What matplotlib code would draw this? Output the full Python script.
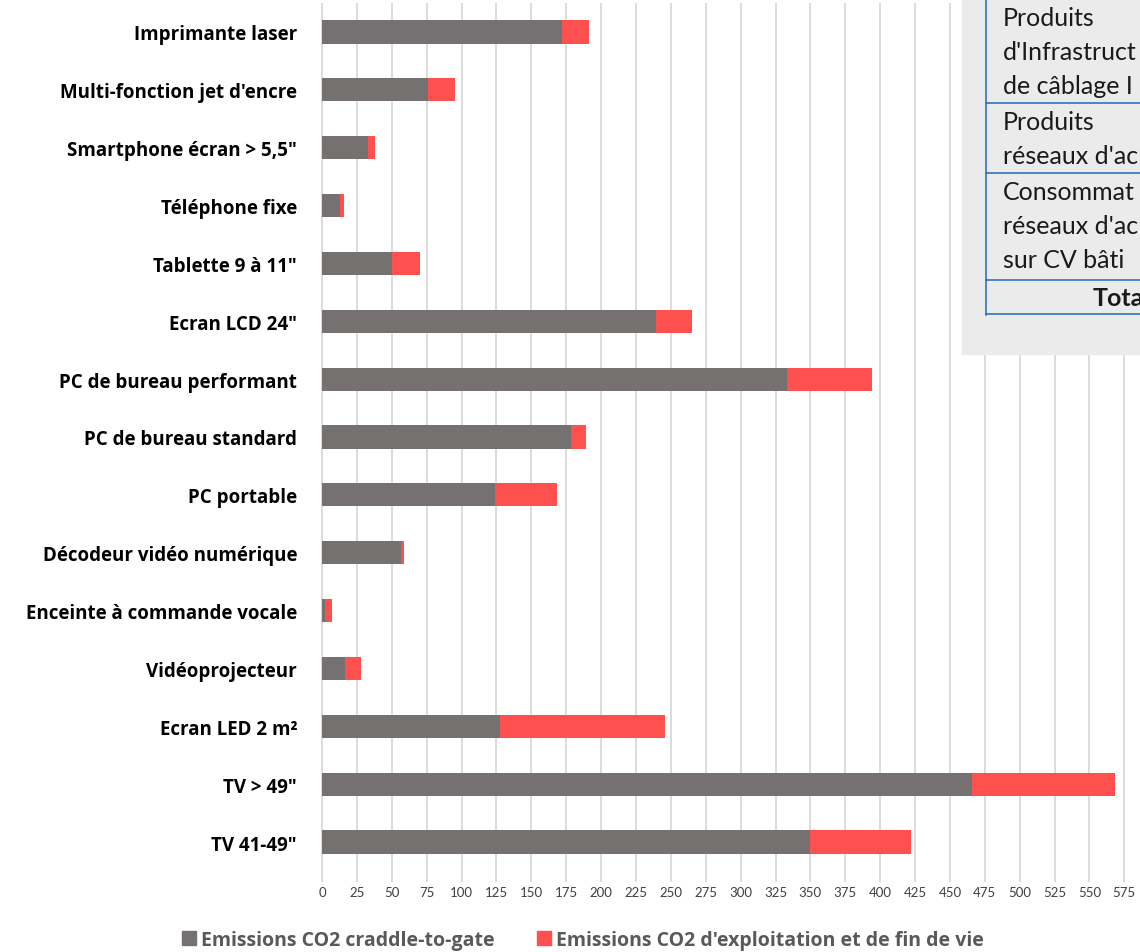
"""Emissions CO2 par équipement - barres empilées horizontales."""
import matplotlib.pyplot as plt
from matplotlib.patches import Rectangle
from matplotlib.lines import Line2D

plt.rcParams['font.family'] = ['Lato', 'DejaVu Sans']

categories = [
    "Imprimante laser", "Multi-fonction jet d'encre", 'Smartphone écran > 5,5"',
    "Téléphone fixe", 'Tablette 9 à 11"', 'Ecran LCD 24"', "PC de bureau performant",
    "PC de bureau standard", "PC portable", "Décodeur vidéo numérique",
    "Enceinte à commande vocale", "Vidéoprojecteur", "Ecran LED 2 m²",
    'TV > 49"', 'TV 41-49"',
]
# craddle-to-gate part, and total (gate + exploitation/fin de vie)
gate = [172, 76, 33, 13, 50, 239, 333, 178.5, 124, 56.5, 2.3, 16.5, 127.5, 466, 350]
total = [191, 95, 38, 15.5, 70, 265, 394, 189, 168.5, 59, 7, 28, 246, 568.5, 422]
use_eol = [t - g for t, g in zip(total, gate)]

legend_labels = ["Emissions CO2 craddle-to-gate", "Emissions CO2 d'exploitation et de fin de vie"]
xticks = list(range(0, 576, 25))

table_rows = [
    (["Produits", "d'Infrastruct", "de câblage I"], False),
    (["Produits", "réseaux d'ac"], False),
    (["Consommat", "réseaux d'ac", "sur CV bâti"], False),
    (["Tota"], True),
]

W, H = 1140, 953
fig = plt.figure(figsize=(W / 100, H / 100), dpi=100)
ax = fig.add_axes([320.7 / W, 1 - 872 / H, (1125.7 - 320.7) / W, (872 - 4) / H])

gray, red = "#767171", "#ff5050"
y = range(len(categories))
ax.barh(y, gate, height=0.4, color=gray, zorder=3)
ax.barh(y, use_eol, left=gate, height=0.4, color=red, zorder=3)

ax.set_ylim(len(categories) - 0.5, -0.5)
ax.set_xlim(-1, 576)
ax.set_yticks(list(y))
ax.set_yticklabels(categories, fontsize=13.5, fontweight="bold", color="black",
                   family=["Open Sans", "DejaVu Sans"])
ax.set_xticks(xticks)
ax.set_xticklabels([str(v) for v in xticks], fontsize=9.5, color="#404040")
ax.tick_params(axis="y", length=0, pad=17)
ax.tick_params(axis="x", length=8, color="#d9d9d9", width=1.3, pad=3)
ax.grid(axis="x", color="#d9d9d9", linewidth=1.3, zorder=0)
ax.set_axisbelow(True)
for s in ax.spines.values():
    s.set_visible(False)

# legend
handles = [Rectangle((0, 0), 1, 1, color=gray), Rectangle((0, 0), 1, 1, color=red)]
leg = fig.legend(handles, legend_labels, loc="center", bbox_to_anchor=(583 / W, 1 - 941 / H),
                 ncol=2, frameon=False, handlelength=0.7, handleheight=0.7,
                 handletextpad=0.25, columnspacing=2.2,
                 prop={"size": 14, "weight": "bold", "family": ["Open Sans", "DejaVu Sans"]})
for t in leg.get_texts():
    t.set_color("#595959")

# overlapping table box (top right)
def fx(px):
    return px / W

def fy(py):
    return 1 - py / H

fig.add_artist(Rectangle((fx(962), fy(355)), fx(W - 962) + 0.01, 355 / H + 0.01,
                         transform=fig.transFigure, color="#ebebeb", zorder=5))
blue = "#2e75b6"
fig.add_artist(Line2D([fx(986), fx(986)], [fy(316), 1.01], transform=fig.transFigure,
                      color=blue, lw=1.2, zorder=6))
for yl in [104, 174, 281, 315]:
    fig.add_artist(Line2D([fx(986), 1.01], [fy(yl), fy(yl)], transform=fig.transFigure,
                          color=blue, lw=1.2, zorder=6))

row_tops = [0, 104, 174, 281]
for (lines, bold), top in zip(table_rows, row_tops):
    for i, txt in enumerate(lines):
        if bold:
            fig.text(fx(1093), fy(top + 18), txt, fontsize=18, fontweight="bold",
                     va="center", ha="left", color="#1a1a1a", zorder=7)
        else:
            fig.text(fx(1003), fy(top + 18 + 34.5 * i), txt, fontsize=18,
                     va="center", ha="left", color="#1a1a1a", zorder=7)

fig.savefig("out.png", dpi=100)
